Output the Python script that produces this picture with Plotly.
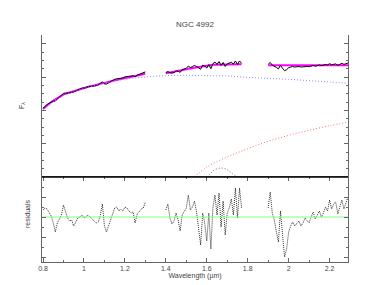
import numpy as np
import plotly.graph_objects as go

# ---- data ----
seg1_wl = [round(0.80 + 0.01 * i, 2) for i in range(51)]
seg2_wl = [round(1.40 + 0.01 * i, 2) for i in range(38)]
seg3_wl = [round(1.90 + 0.01 * i, 2) for i in range(40)]

seg1_model = [2.04, 2.10, 2.15, 2.20, 2.25, 2.29, 2.33, 2.37, 2.41, 2.44,
              2.47, 2.50, 2.52, 2.54, 2.56, 2.58, 2.60, 2.62, 2.64, 2.66,
              2.67, 2.69, 2.70, 2.72, 2.73, 2.75, 2.76, 2.78, 2.79, 2.81,
              2.82, 2.84, 2.85, 2.87, 2.88, 2.90, 2.91, 2.93, 2.94, 2.95,
              2.97, 2.98, 2.99, 3.01, 3.02, 3.03, 3.05, 3.06, 3.07, 3.09, 3.10]
seg2_model = [3.11, 3.12, 3.13, 3.14, 3.15, 3.17, 3.18, 3.19, 3.21, 3.22,
              3.23, 3.25, 3.26, 3.28, 3.29, 3.30, 3.32, 3.33, 3.34, 3.35,
              3.35, 3.36, 3.36, 3.37, 3.37, 3.37, 3.38, 3.38, 3.38, 3.38,
              3.38, 3.38, 3.38, 3.38, 3.38, 3.38, 3.38, 3.38]
seg3_model = [3.35, 3.35, 3.34, 3.34, 3.34, 3.33, 3.33, 3.33, 3.33, 3.33,
              3.33, 3.33, 3.33, 3.33, 3.33, 3.33, 3.33, 3.33, 3.33, 3.33,
              3.33, 3.33, 3.33, 3.33, 3.34, 3.34, 3.34, 3.34, 3.34, 3.34,
              3.34, 3.34, 3.34, 3.34, 3.34, 3.34, 3.35, 3.35, 3.35, 3.35]

seg1_res = [0.7, 0.9, 0.8, 0.4, 0.1, -0.6, -1.5, -0.6, -0.2, 0.2,
            1.2, 0.4, -0.1, -0.4, -0.3, -0.9, -0.5, -0.1, 0.0, 0.2,
            -0.1, 0.1, 0.2, 0.0, -0.2, -0.3, -0.6, -0.5, 0.2, 1.3,
            -0.9, -1.5, -0.8, -0.3, 0.3, 0.9, 1.0, 0.6, 0.8, 0.6,
            1.0, 0.9, 0.6, 0.4, 0.5, -0.6, 0.3, 0.6, 0.8, 0.9, 1.5]
seg2_res = [0.7, 1.3, -0.1, -0.7, -0.4, 0.4, -0.3, -1.4, 0.2, 0.5,
            0.9, 2.2, 0.7, 1.0, 1.6, 0.5, -1.2, -2.8, 0.4, -0.6,
            -2.4, 0.4, -3.2, 0.9, 2.2, 0.2, 2.4, -1.0, 1.6, -1.8,
            0.4, 0.9, 1.8, 0.2, 2.9, -0.1, 2.9, 0.9]
seg3_res = [0.9, 2.5, 0.4, -0.3, -1.5, -2.5, 0.6, -1.9, -4.0, -3.2,
            -1.5, -0.9, -0.5, -0.9, -0.7, -0.4, -0.9, -0.6, -0.1, -0.4,
            -0.6, 0.0, 0.5, -0.2, 0.2, 0.6, 0.0, 0.4, 1.0, 0.6,
            1.7, 0.8, 1.3, 1.5, 0.3, 0.9, 1.7, 0.8, 1.3, 2.0]

cont_wl = [0.80, 0.90, 1.00, 1.10, 1.20, 1.30, 1.40, 1.50, 1.60, 1.70,
           1.80, 1.90, 2.00, 2.10, 2.20, 2.29]
cont_flux = [2.02, 2.45, 2.66, 2.81, 2.93, 3.00, 3.04, 3.05, 3.04, 3.03,
             2.99, 2.96, 2.93, 2.89, 2.85, 2.81]

hot_wl = [1.54, 1.60, 1.70, 1.80, 1.90, 2.00, 2.10, 2.20, 2.29]
hot_flux = [0.00, 0.30, 0.60, 0.85, 1.07, 1.25, 1.40, 1.54, 1.65]

line_wl = [1.60, 1.62, 1.64, 1.67, 1.70, 1.72, 1.75]
line_flux = [0.00, 0.12, 0.22, 0.27, 0.22, 0.12, 0.00]

res_scale = 0.035  # residual units -> flux units in top panel

x_tickvals = [0.8, 1.0, 1.2, 1.4, 1.6, 1.8, 2.0, 2.2]
x_ticktext = ["0.8", "1", "1.2", "1.4", "1.6", "1.8", "2", "2.2"]

# ---- figure ----
fig = go.Figure()
FONT = "Liberation Sans, Arial, sans-serif"
DOT = "1px,2px"

for wl, mod, res in [(seg1_wl, seg1_model, seg1_res),
                     (seg2_wl, seg2_model, seg2_res),
                     (seg3_wl, seg3_model, seg3_res)]:
    data = (np.array(mod) + res_scale * np.array(res)).tolist()
    fig.add_trace(go.Scatter(x=wl, y=mod, mode="lines",
                             line=dict(color="#ff00ff", width=2),
                             xaxis="x", yaxis="y2", showlegend=False))
    fig.add_trace(go.Scatter(x=wl, y=data, mode="lines",
                             line=dict(color="black", width=1),
                             xaxis="x", yaxis="y2", showlegend=False))
    fig.add_trace(go.Scatter(x=wl, y=res, mode="lines",
                             line=dict(color="black", width=0.8, dash="1px,1px"),
                             xaxis="x", yaxis="y", showlegend=False))

fig.add_trace(go.Scatter(x=cont_wl, y=cont_flux, mode="lines",
                         line=dict(color="#8c8cff", width=1, dash=DOT, shape="spline"),
                         xaxis="x", yaxis="y2", showlegend=False))
fig.add_trace(go.Scatter(x=hot_wl, y=hot_flux, mode="lines",
                         line=dict(color="#ff7070", width=1, dash=DOT, shape="spline"),
                         xaxis="x", yaxis="y2", showlegend=False))
fig.add_trace(go.Scatter(x=line_wl, y=line_flux, mode="lines",
                         line=dict(color="#707070", width=1, dash=DOT, shape="spline"),
                         xaxis="x", yaxis="y2", showlegend=False))

# zero line of residuals
fig.add_trace(go.Scatter(x=[0.795, 2.29], y=[0, 0], mode="lines",
                         line=dict(color="#80ff80", width=1.2),
                         xaxis="x", yaxis="y", showlegend=False))

axcol = "#666666"
common_x = dict(range=[0.795, 2.29], showline=True, linecolor=axcol, linewidth=1,
                mirror="ticks", ticks="inside", ticklen=4, tickcolor=axcol,
                showgrid=False, zeroline=False, automargin=False,
                minor=dict(ticks="inside", ticklen=2, dtick=0.1, tickcolor=axcol, showgrid=False))

fig.update_layout(
    width=374, height=285, autosize=False,
    margin=dict(l=42, r=26, t=35, b=23, autoexpand=False),
    paper_bgcolor="white", plot_bgcolor="white",
    font=dict(family=FONT, size=7, color="#444444"),
    title=dict(text="NGC 4992", x=195 / 374, xanchor="center", y=1 - 24 / 285, yanchor="middle",
               font=dict(size=8, color="#444444")),
    xaxis=dict(**common_x, anchor="y", tickvals=x_tickvals, ticktext=x_ticktext,
               tickfont=dict(size=7), title=dict(text="Wavelength (µm)", standoff=1,
                                                 font=dict(size=7))),
    xaxis2=dict(**common_x, anchor="y2", matches="x", showticklabels=False,
                tickvals=x_tickvals),
    yaxis=dict(domain=[0, 0.3744], range=[-4.5, 4.0], showline=True, linecolor=axcol,
               mirror="ticks", ticks="inside", ticklen=4, tickcolor=axcol, dtick=2, tick0=0,
               showticklabels=False, showgrid=False, zeroline=False, automargin=False,
               minor=dict(ticks="inside", ticklen=2, dtick=1, tickcolor=axcol)),
    yaxis2=dict(domain=[0.3744, 1], range=[0, 4.26], showline=True, linecolor=axcol,
                mirror="ticks", ticks="inside", ticklen=4, tickcolor=axcol, dtick=1, tick0=0,
                showticklabels=False, showgrid=False, zeroline=False, automargin=False,
                minor=dict(ticks="inside", ticklen=2, dtick=0.25, tickcolor=axcol)),
)

# y-axis titles as annotations
fig.add_annotation(text="F<sub>λ</sub>", xref="paper", yref="paper",
                   x=-20 / 306, y=(262 - 106) / 227, xanchor="center", yanchor="middle",
                   textangle=-90, showarrow=False, font=dict(size=7, color="#444444"))
fig.add_annotation(text="residuals", xref="paper", yref="paper",
                   x=-15 / 306, y=(262 - 214) / 227, xanchor="center", yanchor="middle",
                   textangle=-90, showarrow=False, font=dict(size=7, color="#444444"))

# thick separator between panels
fig.add_shape(type="line", xref="paper", yref="paper", x0=0, x1=1, y0=0.3744, y1=0.3744,
              line=dict(color="black", width=1.5))

fig.write_html("out.html", config={"displayModeBar": False},
               post_script="document.body.style.margin='0';document.body.style.overflow='hidden';")
